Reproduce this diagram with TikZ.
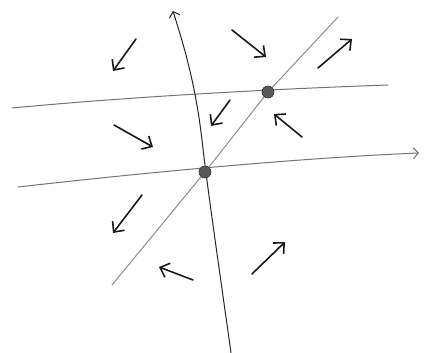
\documentclass[tikz,border=0pt]{standalone}
\usetikzlibrary{arrows.meta}
\begin{document}
\begin{tikzpicture}[x=1pt,y=-1pt,
  axisline/.style={line width=1pt, draw=black!85, line cap=round},
  thinline/.style={line width=1pt, draw=black!55, line cap=round},
  diagline/.style={line width=1pt, draw=black!45, line cap=round},
  flow/.style={line width=1.6pt, draw=black!90, line cap=round, line join=round,
    -{Straight Barb[length=8pt,width=15pt,line width=1.6pt]}},
  axhead/.style={-{Straight Barb[length=5pt,width=11pt,line width=1pt]}},
  fixpt/.style={circle, fill=black!65, draw=black!80, line width=0.6pt, inner sep=0pt, minimum size=12pt}]
\useasboundingbox (0,0) rectangle (424,353);
% lines
\draw[thinline] (12,108) .. controls (150,95) and (300,88) .. (388,85);
\draw[thinline, axhead] (18,187) .. controls (150,172) and (300,158) .. (419,153);
\draw[diagline] (112,285) -- (205,172) -- (268,92) -- (338,17);
\draw[axisline, axhead] (231,353) .. controls (218,260) and (207,185) .. (202,140)
  .. controls (195,80) and (182,40) .. (173,11);
% fixed points
\node[fixpt] (p1) at (268,92) {};
\node[fixpt] (p2) at (205,172) {};
% flow arrows
\draw[flow] (136,39) -- (113,71);
\draw[flow] (232,30) -- (266,57);
\draw[flow] (318,68) -- (352,39);
\draw[flow] (230,100) -- (211,126);
\draw[flow] (114,125) -- (153,147);
\draw[flow] (302,137) -- (274,114);
\draw[flow] (142,195) -- (113,233);
\draw[flow] (193,280) -- (159,267);
\draw[flow] (252,274) -- (285,242);
\end{tikzpicture}
\end{document}
